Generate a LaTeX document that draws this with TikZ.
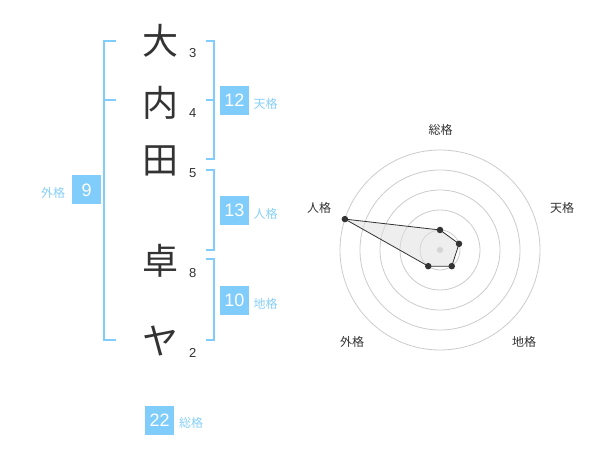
\documentclass[tikz,border=0pt]{standalone}
\usepackage{fontspec}
\usetikzlibrary{calc}
\setmainfont{Liberation Sans}
\newfontfamily\jp{Noto Sans CJK JP}
\definecolor{bl}{RGB}{128,204,250}
\definecolor{bltxt}{RGB}{135,208,250}
\definecolor{dk}{RGB}{51,51,51}
\definecolor{ring}{RGB}{204,204,204}
\begin{document}
\begin{tikzpicture}[x=1pt,y=-1pt,
  kanji/.style={font=\jp\fontsize{36}{36}\selectfont, text=dk, inner sep=0pt},
  strokes/.style={font=\fontsize{13}{13}\selectfont, text=dk, inner sep=0pt},
  valbox/.style={fill=bl, text=white, minimum width=29pt, minimum height=29pt, inner sep=0pt, font=\fontsize{18}{18}\selectfont},
  boxlabel/.style={text=bltxt, font=\jp\fontsize{12}{12}\selectfont, inner sep=0pt},
  brk/.style={draw=bl, line width=2pt},
  radlabel/.style={text=dk, font=\jp\fontsize{12}{12}\selectfont, inner sep=0pt},
  ringline/.style={draw=ring, line width=0.8pt},
  dot/.style={circle, fill=dk, inner sep=0pt, minimum size=6.5pt}
]
\useasboundingbox (0,0) rectangle (600,470);
\fill[white] (0,0) rectangle (600,470);

% name characters
\node[kanji] (k1) at (160,40.5) {大};
\node[kanji] (k2) at (160,102.5) {内};
\node[kanji] (k3) at (160,161) {田};
\node[kanji] (k4) at (160,261) {卓};
\node[kanji] (k5) at (160,341) {ヤ};

\node[strokes] (s1) at (192.7,52.7) {3};
\node[strokes] (s2) at (192.7,113.3) {4};
\node[strokes] (s3) at (192.7,173.3) {5};
\node[strokes] (s4) at (192.7,273.3) {8};
\node[strokes] (s5) at (192.7,353.3) {2};

% left bracket (gaikaku)
\coordinate (lt) at (116,40.7);
\coordinate (lm) at (116,100);
\coordinate (lb) at (116,340);
\draw[brk] (lt) -- (104.3,40.7) -- (104.3,340) -- (lb);
\draw[brk] (104.3,100) -- (lm);
\node[valbox] (b9) at (86.7,190) {9};
\node[boxlabel] (g9) at (53,193) {外格};

% right brackets
\coordinate (t1) at (205.7,40.7);
\coordinate (t2) at (205.7,159.3);
\coordinate (tm) at (205.7,100);
\draw[brk] (t1) -- (214.3,40.7) -- (214.3,159.3) -- (t2);
\draw[brk] (214.3,100) -- (tm);
\node[valbox] (b12) at (234.5,100.3) {12};
\node[boxlabel, anchor=west] (g12) at (253.5,103.5) {天格};

\coordinate (j1) at (205.7,170);
\coordinate (j2) at (205.7,250);
\draw[brk] (j1) -- (214.3,170) -- (214.3,250) -- (j2);
\node[valbox] (b13) at (234.5,210.3) {13};
\node[boxlabel, anchor=west] (g13) at (253.5,213.5) {人格};

\coordinate (c1) at (205.7,259.3);
\coordinate (c2) at (205.7,340);
\draw[brk] (c1) -- (214.3,259.3) -- (214.3,340) -- (c2);
\node[valbox] (b10) at (234.5,300.3) {10};
\node[boxlabel, anchor=west] (g10) at (253.5,303.5) {地格};

\node[valbox] (b22) at (159.7,420) {22};
\node[boxlabel, anchor=west] (g22) at (179,423.3) {総格};

% radar chart
\coordinate (rc) at (440,250);
\foreach \r in {20,40,60,80,100} \draw[ringline] (rc) circle (\r);
\fill[ring] (rc) circle (3.2);

\coordinate (p1) at ($(rc)+(-90:20)$);
\coordinate (p2) at ($(rc)+(-18:20)$);
\coordinate (p3) at ($(rc)+(54:20)$);
\coordinate (p4) at ($(rc)+(126:20)$);
\coordinate (p5) at ($(rc)+(-162:100)$);
\filldraw[fill=gray!25, fill opacity=0.5, draw=dk, line width=0.8pt] (p1) -- (p2) -- (p3) -- (p4) -- (p5) -- cycle;
\foreach \p in {p1,p2,p3,p4,p5} \node[dot] at (\p) {};

\node[radlabel] (r1) at (440.5,130) {総格};
\node[radlabel] (r2) at (562,208.3) {天格};
\node[radlabel] (r3) at (319,208.3) {人格};
\node[radlabel] (r4) at (352,341.7) {外格};
\node[radlabel] (r5) at (524,341.7) {地格};
\end{tikzpicture}
\end{document}
